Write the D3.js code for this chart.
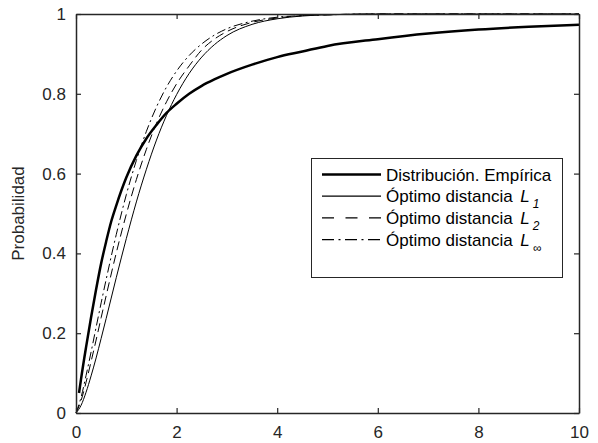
<!DOCTYPE html>
<html>
<head>
<meta charset="utf-8">
<script src="https://cdn.jsdelivr.net/npm/d3@7"></script>
<style>
  body { margin: 0; background: #fff; }
  svg { font-family: "Liberation Sans", Arial, sans-serif; }
</style>
</head>
<body>
<svg width="598" height="443"></svg>
<script>
// Data
const xEmp = [0.06, 0.1, 0.2, 0.3, 0.4, 0.5, 0.6, 0.7, 0.8, 1.0, 1.2, 1.4, 1.6, 1.8, 2.0, 2.25, 2.5, 2.75, 3.0, 3.5, 4.0, 4.5, 5, 6, 7, 8, 9, 10];
const yEmp = [0.05, 0.085, 0.165, 0.24, 0.31, 0.375, 0.43, 0.48, 0.52, 0.59, 0.645, 0.688, 0.722, 0.752, 0.775, 0.8, 0.82, 0.836, 0.85, 0.873, 0.892, 0.906, 0.92, 0.937, 0.951, 0.961, 0.968, 0.973];

const xFit = [0, 0.1, 0.2, 0.3, 0.4, 0.5, 0.6, 0.8, 1.0, 1.2, 1.4, 1.6, 1.8, 2.0, 2.25, 2.5, 2.75, 3.0, 3.5, 4.0, 4.5, 5, 6, 7, 8, 9, 10];
const yL1 = [0, 0.019, 0.052, 0.093, 0.138, 0.187, 0.237, 0.339, 0.437, 0.529, 0.611, 0.684, 0.746, 0.798, 0.851, 0.892, 0.923, 0.946, 0.974, 0.988, 0.995, 0.998, 1, 1, 1, 1, 1];
const yL2 = [0, 0.031, 0.077, 0.129, 0.183, 0.239, 0.294, 0.401, 0.498, 0.585, 0.661, 0.726, 0.78, 0.825, 0.87, 0.91, 0.937, 0.956, 0.979, 0.99, 0.996, 0.998, 1, 1, 1, 1, 1];
const yLinf = [0, 0.039, 0.094, 0.153, 0.215, 0.276, 0.335, 0.447, 0.547, 0.633, 0.706, 0.767, 0.817, 0.857, 0.896, 0.925, 0.947, 0.963, 0.982, 0.992, 0.996, 0.998, 1, 1, 1, 1, 1];

const xTicks = [0, 2, 4, 6, 8, 10];
const yTicks = [0, 0.2, 0.4, 0.6, 0.8, 1];

const series = [
  { name: "Distribución. Empírica", sub: null, xs: xEmp, ys: yEmp, width: 2.5, dash: null, legDash: null },
  { name: "Óptimo distancia ", sub: "1", xs: xFit, ys: yL1, width: 1, dash: null, legDash: null },
  { name: "Óptimo distancia ", sub: "2", xs: xFit, ys: yL2, width: 1, dash: "9,5", legDash: "12,11.5" },
  { name: "Óptimo distancia ", sub: "∞", xs: xFit, ys: yLinf, width: 1, dash: "9,3.5,2,3.5", legDash: "12,4.5,2,4.5" }
];

const svg = d3.select("svg");
const m = { left: 76, right: 579, top: 14, bottom: 413 };
const axisColor = "#262626";
const fs = 17;

const x = d3.scaleLinear().domain([0, 10]).range([m.left, m.right]);
const y = d3.scaleLinear().domain([0, 1]).range([m.bottom, m.top]);

// curves
const line = d3.line().x(d => x(d[0])).y(d => y(d[1])).curve(d3.curveMonotoneX);
series.forEach(s => {
  svg.append("path")
    .datum(s.xs.map((v, i) => [v, s.ys[i]]))
    .attr("d", line)
    .attr("fill", "none")
    .attr("stroke", "#000")
    .attr("stroke-width", s.width)
    .attr("stroke-dasharray", s.dash);
});

// axes (box with inward ticks)
function styleAxis(g) {
  g.select(".domain").attr("stroke", axisColor).attr("stroke-width", 1.5);
  g.selectAll(".tick line").attr("stroke", axisColor).attr("stroke-width", 1.2);
  g.selectAll(".tick text").attr("fill", axisColor).attr("font-size", fs)
    .attr("font-family", "Liberation Sans, Arial, sans-serif");
}

svg.append("g").attr("transform", `translate(0,${m.bottom})`)
  .call(d3.axisBottom(x).tickValues(xTicks).tickSizeInner(-5).tickSizeOuter(0).tickPadding(13).tickFormat(d3.format("d")))
  .call(styleAxis);
svg.append("g").attr("transform", `translate(0,${m.top})`)
  .call(d3.axisTop(x).tickValues(xTicks).tickSizeInner(-5).tickSizeOuter(0).tickFormat(""))
  .call(styleAxis);
svg.append("g").attr("transform", `translate(${m.left},0)`)
  .call(d3.axisLeft(y).tickValues(yTicks).tickSizeInner(-5).tickSizeOuter(0).tickPadding(10).tickFormat(d => d === 0 || d === 1 ? d : d.toFixed(1)))
  .call(styleAxis);
svg.append("g").attr("transform", `translate(${m.right},0)`)
  .call(d3.axisRight(y).tickValues(yTicks).tickSizeInner(-5).tickSizeOuter(0).tickFormat(""))
  .call(styleAxis);

// y label
svg.append("text")
  .attr("transform", `translate(24,${(m.top + m.bottom) / 2}) rotate(-90)`)
  .attr("text-anchor", "middle")
  .attr("font-size", fs)
  .attr("fill", axisColor)
  .text("Probabilidad");

// legend
const lg = svg.append("g");
lg.append("rect")
  .attr("x", 311.5).attr("y", 158.5).attr("width", 251).attr("height", 119)
  .attr("fill", "#fff").attr("stroke", axisColor).attr("stroke-width", 1);

series.forEach((s, i) => {
  const cy = 174.5 + i * 21.7;
  lg.append("line")
    .attr("x1", 322).attr("x2", 381).attr("y1", cy).attr("y2", cy)
    .attr("stroke", "#000").attr("stroke-width", s.width === 1 ? 1.2 : 2.4)
    .attr("stroke-dasharray", s.legDash);
  const t = lg.append("text")
    .attr("x", 386).attr("y", cy + 6)
    .attr("font-size", fs)
    .attr("fill", "#000");
  t.append("tspan").text(s.name);
  if (s.sub) {
    t.append("tspan").attr("font-style", "italic").attr("dx", 3).text("L");
    t.append("tspan").attr("font-size", 12).attr("font-style", "italic").attr("dx", 3).attr("dy", 6).text(s.sub);
  }
});
</script>
</body>
</html>
